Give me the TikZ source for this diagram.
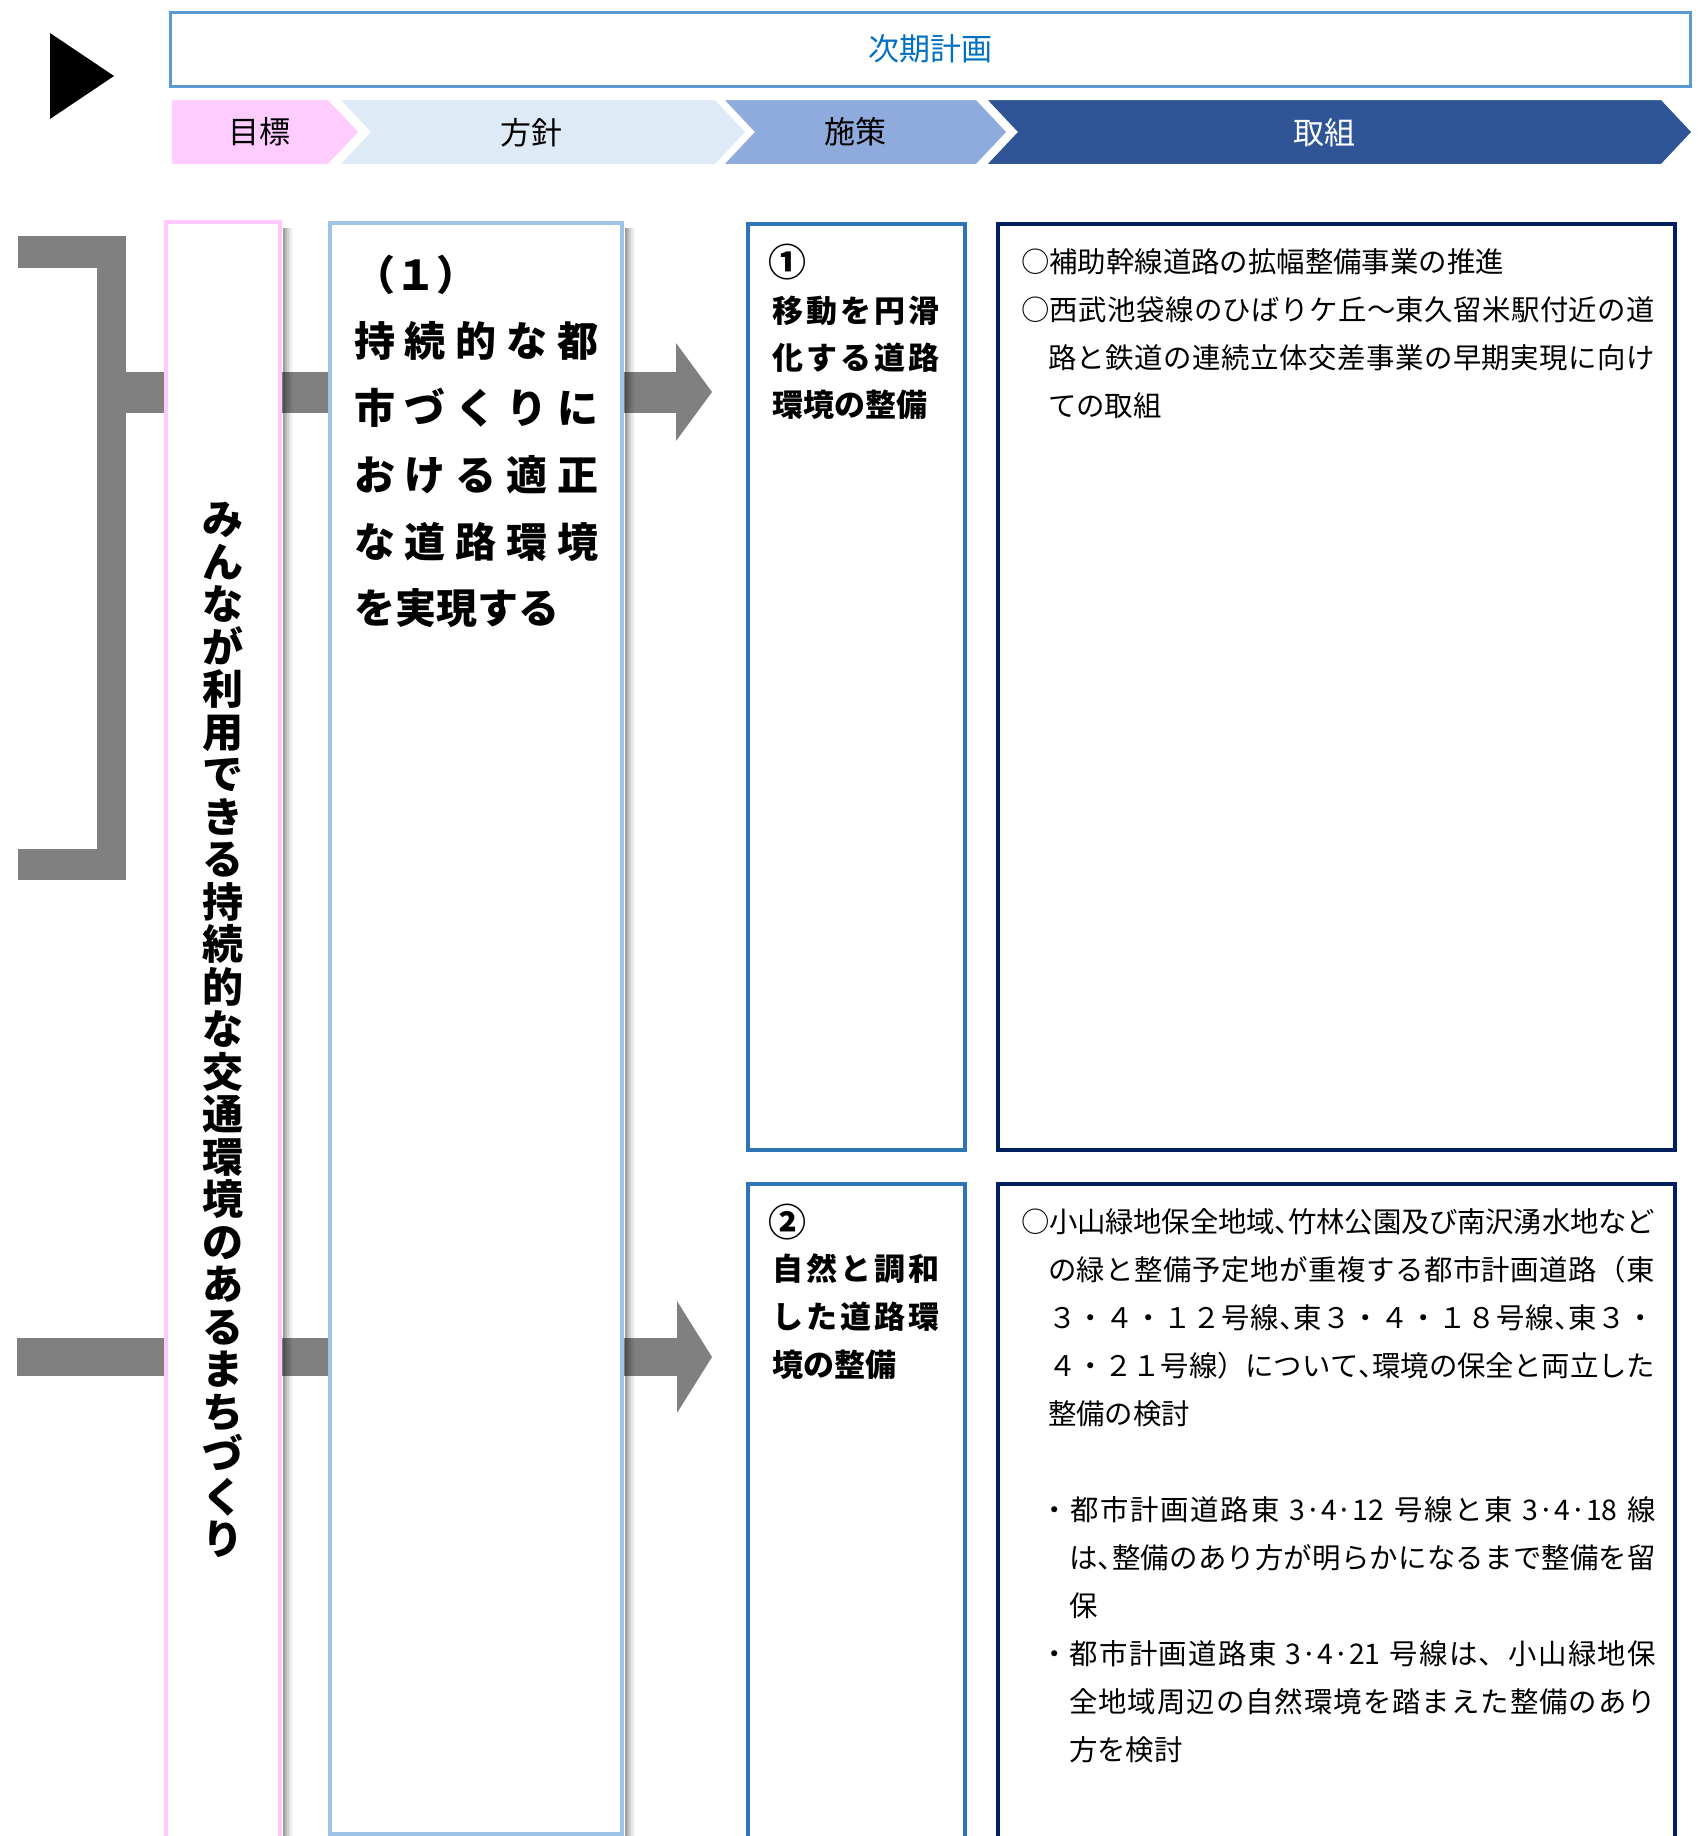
\documentclass[tikz,border=0pt]{standalone}
\usepackage{fontspec}
\setmainfont{Noto Sans CJK JP}
\usetikzlibrary{calc}
\definecolor{pinkC}{RGB}{255,204,255}
\definecolor{lblueC}{RGB}{222,235,247}
\definecolor{mblueC}{RGB}{143,170,220}
\definecolor{dblueC}{RGB}{47,85,151}
\definecolor{topC}{RGB}{91,155,213}
\definecolor{topT}{RGB}{0,112,192}
\definecolor{pinkB}{RGB}{255,200,255}
\definecolor{blueB}{RGB}{157,195,230}
\definecolor{boxC}{RGB}{46,117,182}
\definecolor{navyC}{RGB}{0,32,96}
\definecolor{grayC}{RGB}{128,128,128}
% spread characters of a line over a given width
\def\jl#1{\jlfirst#1\relax}
\def\jlfirst#1{#1\jlrest}
\def\jlrest#1{\ifx\relax#1\else\hskip0pt plus 1fil minus 1pt\relax#1\expandafter\jlrest\fi}
\newcommand\spreadline[2]{\hbox to #1{\jl{#2}}}
\newcommand\halfc[1]{\makebox[0.5em][l]{#1}}
\begin{document}
\begin{tikzpicture}[x=0.5pt,y=-0.5pt,every node/.style={inner sep=0pt,outer sep=0pt}]
\tikzset{
  chev/.style={draw=white,line width=2pt},
  bar/.style={fill=grayC},
  frame/.style={anchor=north west,fill=white},
  head/.style={font=\fontsize{15.5}{15.5}\selectfont},
  rtxt/.style={anchor=west,font=\fontsize{14.2}{14.2}\selectfont},
  btxtL/.style={anchor=west,font=\fontsize{20.5}{20.5}\selectfont\bfseries},
  btxtS/.style={anchor=west,font=\fontsize{15.5}{15.5}\selectfont\bfseries},
  numtxt/.style={anchor=west,font=\fontsize{19}{19}\selectfont\bfseries}
}
\useasboundingbox (0,0) rectangle (1700,1836);
\clip (0,0) rectangle (1700,1836);
\fill[white] (0,0) rectangle (1700,1836);

% black triangle
\fill[black] (50,33) -- (114,76) -- (50,119) -- cycle;

% top box
\node[frame,draw=topC,line width=1.5pt,minimum width=760pt,minimum height=37pt] (plan) at (170,12) {};
\node[head,text=topT] (planlabel) at (plan.center) {次期計画};

% chevrons
\filldraw[chev,fill=pinkC] (170,98) -- (329,98) -- (361,132) -- (329,166) -- (170,166) -- cycle;
\filldraw[chev,fill=lblueC] (336,98) -- (716,98) -- (748,132) -- (716,166) -- (336,166) -- (368,132) -- cycle;
\filldraw[chev,fill=mblueC] (720,98) -- (977,98) -- (1009,132) -- (977,166) -- (720,166) -- (752,132) -- cycle;
\filldraw[chev,fill=dblueC] (983,98) -- (1662,98) -- (1694,132) -- (1662,166) -- (983,166) -- (1015,132) -- cycle;
\node[head] (h1) at (259,132) {目標};
\node[head] (h2) at (531,133) {方針};
\node[head] (h3) at (855,132) {施策};
\node[head,text=white] (h4) at (1324,133) {取組};

% gray bracket and connectors
\fill[bar] (18,236) rectangle (126,268);
\fill[bar] (97,236) rectangle (126,880);
\fill[bar] (18,849) rectangle (126,880);
\fill[bar] (120,372) rectangle (170,413);
\fill[bar] (276,372) rectangle (334,413);
\fill[bar] (618,372) rectangle (677,413);
\fill[bar] (676,343) -- (712,392) -- (676,441) -- cycle;
\fill[bar] (17,1338) rectangle (170,1376);
\fill[bar] (276,1338) rectangle (334,1376);
\fill[bar] (618,1338) rectangle (678,1376);
\fill[bar] (677,1301) -- (712,1357) -- (677,1413) -- cycle;

% goal and policy boxes
\node[frame,draw=pinkB,line width=2pt,minimum width=57pt,minimum height=839pt] (goal) at (166,222) {};
\node[frame,draw=blueB,line width=2pt,minimum width=146pt,minimum height=805.5pt] (policy) at (330,223) {};
% soft shadows
\foreach \i/\o in {0/0.38,2/0.28,4/0.18,6/0.10,8/0.04}{
  \fill[black,opacity=\o] (283+\i,228) rectangle (285+\i,1836);
  \fill[black,opacity=\o] (625+\i,228) rectangle (627+\i,1836);
}

% measure and action boxes
\node[frame,draw=boxC,line width=2pt,minimum width=108.5pt,minimum height=463pt] (m1) at (748,224) {};
\node[frame,draw=navyC,line width=2pt,minimum width=338.5pt,minimum height=463pt] (a1) at (998,224) {};
\node[frame,draw=boxC,line width=2pt,minimum width=108.5pt,minimum height=360pt] (m2) at (748,1184) {};
\node[frame,draw=navyC,line width=2pt,minimum width=338.5pt,minimum height=360pt] (a2) at (998,1184) {};

% goal text (vertical)
\node[font=\fontsize{20.5}{21.25}\selectfont\bfseries,align=center] (goaltext) at (223,1030)
 {み\\ん\\な\\が\\利\\用\\で\\き\\る\\持\\続\\的\\な\\交\\通\\環\\境\\の\\あ\\る\\ま\\ち\\づ\\く\\り};

% policy text
\node[btxtL] (p0) at (354,275) {（１）};
\node[btxtL] (p1) at (354,341) {\spreadline{122.5pt}{持続的な都}};
\node[btxtL] (p2) at (354,408) {\spreadline{122.5pt}{市づくりに}};
\node[btxtL] (p3) at (354,475) {\spreadline{122.5pt}{おける適正}};
\node[btxtL] (p4) at (354,542) {\spreadline{122.5pt}{な道路環境}};
\node[btxtL] (p5) at (354,608) {を実現する};

% measure 1
\node[numtxt] (m1a) at (768,262) {①};
\node[btxtS] (m1b) at (772,311) {\spreadline{84pt}{移動を円滑}};
\node[btxtS] (m1c) at (772,358) {\spreadline{84pt}{化する道路}};
\node[btxtS] (m1d) at (772,405) {環境の整備};
% measure 2
\node[numtxt] (m2a) at (768,1222) {②};
\node[btxtS] (m2b) at (772,1269) {\spreadline{84pt}{自然と調和}};
\node[btxtS] (m2c) at (772,1317) {\spreadline{84pt}{した道路環}};
\node[btxtS] (m2d) at (772,1365) {境の整備};

% actions 1
\node[rtxt] (a1l1) at (1021,262) {○補助幹線道路の拡幅整備事業の推進};
\node[rtxt] (a1l2) at (1021,310) {\spreadline{317pt}{○西武池袋線のひばりケ丘～東久留米駅付近の道}};
\node[rtxt] (a1l3) at (1048,358) {\spreadline{303.5pt}{路と鉄道の連続立体交差事業の早期実現に向け}};
\node[rtxt] (a1l4) at (1048,406) {ての取組};

% actions 2
\node[rtxt] (a2l1) at (1021,1222) {\spreadline{317pt}{○小山緑地保全地域{\halfc{、}}竹林公園及び南沢湧水地など}};
\node[rtxt] (a2l2) at (1048,1270) {\spreadline{303.5pt}{の緑と整備予定地が重複する都市計画道路（東}};
\node[rtxt] (a2l3) at (1048,1318) {\spreadline{303.5pt}{３・４・１２号線{\halfc{、}}東３・４・１８号線{\halfc{、}}東３・}};
\node[rtxt] (a2l4) at (1048,1366) {\spreadline{303.5pt}{４・２１号線）について{\halfc{、}}環境の保全と両立した}};
\node[rtxt] (a2l5) at (1048,1414) {整備の検討};
\node[rtxt] (a2b1) at (1040,1510) {\spreadline{308pt}{・都市計画道路東~{3·4·12}~号線と東~{3·4·18}~線}};
\node[rtxt] (a2b2) at (1069,1558) {\spreadline{293.5pt}{は{\halfc{、}}整備のあり方が明らかになるまで整備を留}};
\node[rtxt] (a2b3) at (1069,1606) {保};
\node[rtxt] (a2b4) at (1040,1654) {\spreadline{308pt}{・都市計画道路東~{3·4·21}~号線は、小山緑地保}};
\node[rtxt] (a2b5) at (1069,1702) {\spreadline{293.5pt}{全地域周辺の自然環境を踏まえた整備のあり}};
\node[rtxt] (a2b6) at (1069,1750) {方を検討};
\end{tikzpicture}
\end{document}
